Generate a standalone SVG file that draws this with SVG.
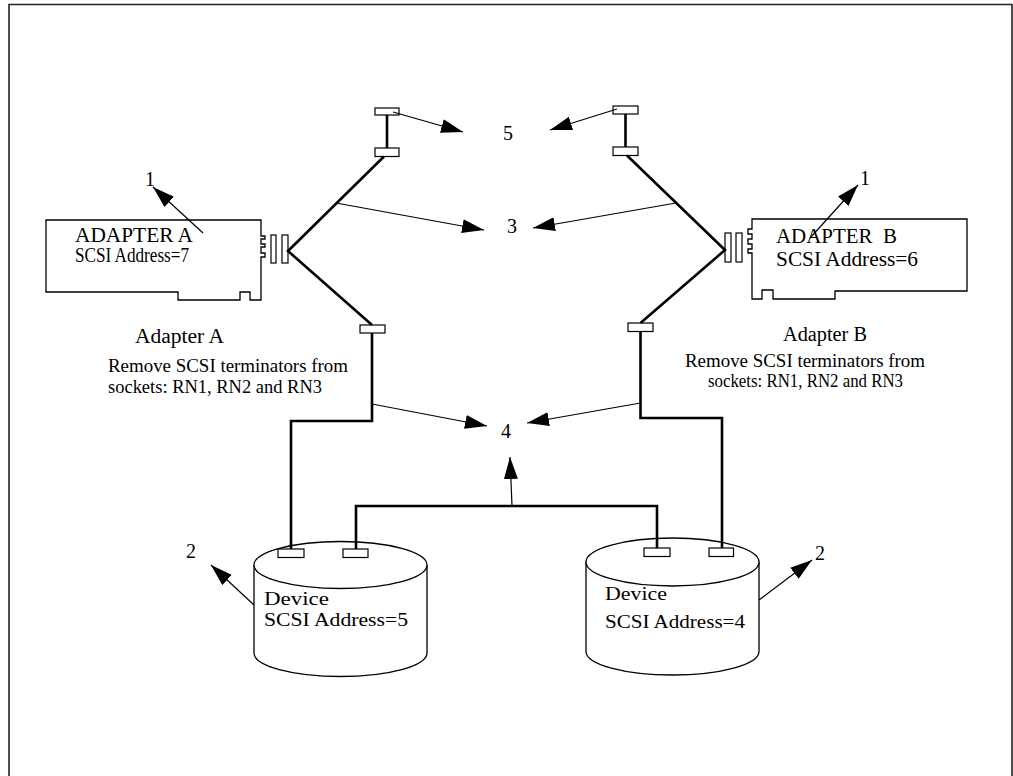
<svg xmlns="http://www.w3.org/2000/svg" width="1013" height="776" viewBox="0 0 1013 776">
  <style>
    .t { font-family: "Liberation Serif", "Times New Roman", serif; fill: #000; }
    .lbl { font-family: "Liberation Serif", "Times New Roman", serif; font-size: 20px; fill: #000; }
    .outline { fill: #fff; stroke: #000; stroke-width: 1.3; }
    .cable { fill: none; stroke: #000; stroke-width: 2.6; stroke-linejoin: miter; }
    .port { fill: #fff; stroke: #000; stroke-width: 1.2; }
    .ptr { fill: none; stroke: #000; stroke-width: 1.2; marker-end: url(#head); }
  </style>
  <defs>
    <marker id="head" markerUnits="userSpaceOnUse" markerWidth="24" markerHeight="14" refX="22" refY="7" orient="auto">
      <path d="M0,0 L22,7 L0,14 Z" fill="#000"/>
    </marker>
  </defs>

  <rect width="1013" height="776" fill="#fff"/>
  <!-- page frame, open at the bottom -->
  <path d="M9,780 V4.5 H1012 V780" fill="none" stroke="#222" stroke-width="1.6"/>

  <!-- adapter card A -->
  <g id="adapterA">
    <path class="outline" d="M46,220 H261 V236 H265 V239 H261 V244 H265 V247 H261 V253 H265 V257 H261 V300 H250 V292 H240 V300 H178 V292 H46 Z"/>
    <rect class="port" x="271" y="235" width="5" height="28"/>
    <rect class="port" x="282" y="235" width="6" height="28"/>
    <text class="t" x="75" y="242" font-size="20" textLength="118" lengthAdjust="spacingAndGlyphs">ADAPTER A</text>
    <text class="t" x="75" y="262" font-size="20" textLength="114" lengthAdjust="spacingAndGlyphs">SCSI Address=7</text>
  </g>

  <!-- adapter card B -->
  <g id="adapterB">
    <path class="outline" d="M752,219 H967 V291 H835 V299 H773 V290 H762 V299 H752 V253 H748 V249 H752 V244 H748 V239 H752 V234 H748 V229 H752 Z"/>
    <rect class="port" x="725" y="233" width="6" height="29"/>
    <rect class="port" x="736" y="233" width="6" height="29"/>
    <text class="t" x="776" y="243" font-size="20" xml:space="preserve" textLength="121" lengthAdjust="spacingAndGlyphs">ADAPTER  B</text>
    <text class="t" x="776" y="266" font-size="20" textLength="142" lengthAdjust="spacingAndGlyphs">SCSI Address=6</text>
  </g>

  <!-- adapter notes -->
  <g id="noteA">
    <text class="t" x="135" y="343" font-size="20" textLength="89" lengthAdjust="spacingAndGlyphs">Adapter A</text>
    <text class="t" x="108" y="372" font-size="19" textLength="240" lengthAdjust="spacingAndGlyphs">Remove SCSI terminators from</text>
    <text class="t" x="108" y="393" font-size="19" textLength="214" lengthAdjust="spacingAndGlyphs">sockets: RN1, RN2 and RN3</text>
  </g>
  <g id="noteB">
    <text class="t" x="783" y="341" font-size="20" textLength="84" lengthAdjust="spacingAndGlyphs">Adapter B</text>
    <text class="t" x="685" y="367" font-size="19" textLength="240" lengthAdjust="spacingAndGlyphs">Remove SCSI terminators from</text>
    <text class="t" x="708" y="387" font-size="19" textLength="195" lengthAdjust="spacingAndGlyphs">sockets: RN1, RN2 and RN3</text>
  </g>

  <!-- disk device, address 5 -->
  <g id="device5">
    <path class="outline" d="M254,565 V653 A86.5,23.5 0 0 0 427,653 V565"/>
    <ellipse class="outline" cx="340.5" cy="565" rx="86.5" ry="23.5"/>
    <rect class="port" x="278" y="549" width="26" height="8.5"/>
    <rect class="port" x="343" y="549" width="25" height="8.5"/>
    <text class="t" x="264" y="605" font-size="19" textLength="65" lengthAdjust="spacingAndGlyphs">Device</text>
    <text class="t" x="264" y="626" font-size="19" textLength="144" lengthAdjust="spacingAndGlyphs">SCSI Address=5</text>
  </g>

  <!-- disk device, address 4 -->
  <g id="device4">
    <path class="outline" d="M586,562 V651.5 A86.5,23.5 0 0 0 759,651.5 V562"/>
    <ellipse class="outline" cx="672.5" cy="562" rx="86.5" ry="24"/>
    <rect class="port" x="644" y="548" width="26" height="8.5"/>
    <rect class="port" x="709" y="548" width="24.5" height="8.5"/>
    <text class="t" x="605" y="600" font-size="19" textLength="62" lengthAdjust="spacingAndGlyphs">Device</text>
    <text class="t" x="605" y="628" font-size="19" textLength="140" lengthAdjust="spacingAndGlyphs">SCSI Address=4</text>
  </g>

  <!-- Y-cable terminators and inline connectors -->
  <g id="cableA">
    <rect class="port" x="375" y="108" width="24" height="7"/>
    <rect class="port" x="375" y="148" width="24" height="8.5"/>
    <rect class="port" x="360" y="325" width="25" height="8"/>
  </g>
  <g id="cableB">
    <rect class="port" x="613" y="106" width="25" height="8"/>
    <rect class="port" x="613" y="147" width="25" height="8.5"/>
    <rect class="port" x="628" y="323" width="25" height="8.5"/>
  </g>

  <!-- connectors -->
  <g id="connectors">
    <!-- cabling -->
    <path class="cable" d="M387,115 V148"/>
    <path class="cable" d="M384,156.5 L288,251 L372,325"/>
    <path class="cable" d="M372,333 V421 H291 V549"/>
    <path class="cable" d="M625.5,114 V147"/>
    <path class="cable" d="M627,155.5 L725,250 L640.5,323"/>
    <path class="cable" d="M640.5,331.5 V418 H722 V548"/>
    <path class="cable" d="M356,549 V506 H657 V548"/>

    <!-- callout pointers -->
    <line class="ptr" x1="393" y1="112" x2="463" y2="132"/>
    <line class="ptr" x1="617" y1="109" x2="550" y2="130"/>
    <line class="ptr" x1="336" y1="203" x2="484" y2="230"/>
    <line class="ptr" x1="676" y1="203" x2="533" y2="228"/>
    <line class="ptr" x1="372" y1="404" x2="487" y2="426"/>
    <line class="ptr" x1="640.5" y1="403" x2="527" y2="423"/>
    <line class="ptr" x1="512" y1="506" x2="510" y2="457"/>
    <line class="ptr" x1="203" y1="233" x2="153" y2="187"/>
    <line class="ptr" x1="810" y1="238" x2="858" y2="185"/>
    <line class="ptr" x1="254" y1="605" x2="211" y2="565"/>
    <line class="ptr" x1="759" y1="600" x2="812" y2="560"/>
  </g>

  <!-- callout numbers -->
  <g id="callouts">
    <text class="lbl" x="503" y="140">5</text>
    <text class="lbl" x="507" y="233">3</text>
    <text class="lbl" x="501" y="438">4</text>
    <text class="lbl" x="145" y="186">1</text>
    <text class="lbl" x="860" y="185">1</text>
    <text class="lbl" x="186" y="558">2</text>
    <text class="lbl" x="815" y="560">2</text>
  </g>
</svg>
